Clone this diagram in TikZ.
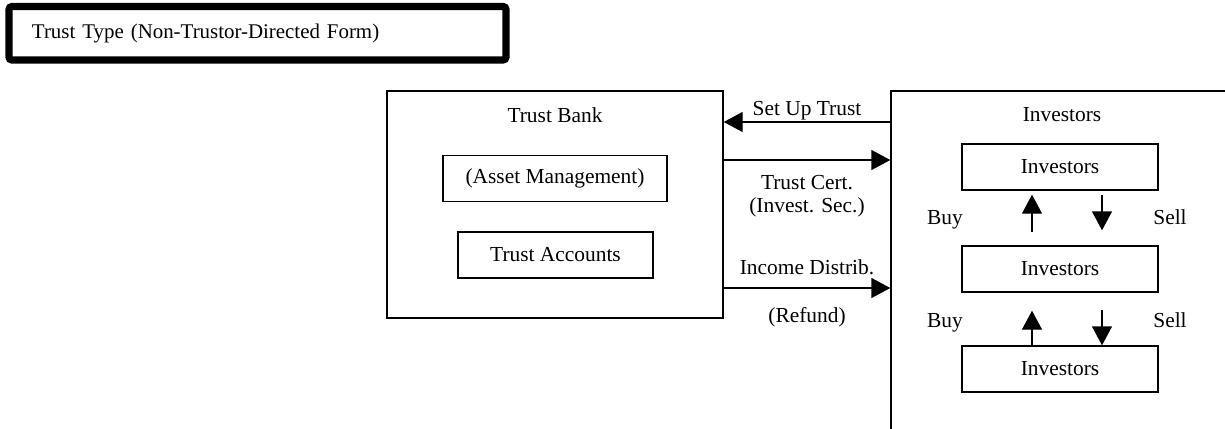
\documentclass[tikz,border=0pt]{standalone}
\usepackage{fontspec}
\setmainfont{Liberation Serif}
\usetikzlibrary{arrows.meta, positioning, calc}
\tikzset{
  panel/.style={
    rectangle, draw, line width=0.7pt, minimum width=#1, minimum height=23pt,
    align=center
  },
  flow/.style={
    -{Triangle[length=9.5pt, width=10pt]}, line width=0.7pt
  }
}

\begin{document}
\begin{tikzpicture}[
  x=0.5pt, y=-0.5pt, font=\fontsize{10.7}{11.5}\selectfont,
  heading/.style={rectangle, draw, line width=3.6pt, rounded corners=1.5pt,
                  minimum height=26.75pt, text width=225.5pt, inner xsep=11.5pt, align=left,
                  font=\fontsize{10.45}{11.5}\selectfont},
  tag/.style={inner sep=0pt, align=center},
]
  \useasboundingbox (0,0) rectangle (1225,428);
  \clip (0,0) rectangle (1225,428);

  % Title
  \node[heading] (title) at (257.5,33.25) {Trust Type (Non-Trustor-Directed Form)};

  % Trust bank
  \node[panel=168pt, minimum height=113.5pt] (bank) at (555,204.5) {};
  \node (bankname) at (555,115) {Trust Bank};
  \node[panel=112pt] (asset) at (555,178.5) {(Asset Management)};
  \node[panel=97.5pt] (accounts) at (555.5,255) {Trust Accounts};

  % Investors
  \node[panel=179.5pt, minimum height=179.5pt] (market) at (1070.5,270.5) {};
  \node (marketname) at (1062,115) {Investors};
  \node[panel=98pt] (inv1) at (1060,167) {Investors};
  \node[panel=98pt] (inv2) at (1060,269) {Investors};
  \node[panel=98pt] (inv3) at (1060,369) {Investors};

  % Flows between bank and investors
  \coordinate (r1) at (0,122);
  \coordinate (r2) at (0,160);
  \coordinate (r3) at (0,288);
  \draw[flow] (market.west |- r1) -- node[tag, above=0.6pt] (setup) {Set Up Trust} (bank.east |- r1);
  \draw[flow] (bank.east |- r2) -- node[tag, below=7.5pt] (cert) {Trust Cert.\\(Invest. Sec.)} (market.west |- r2);
  \draw[flow] (bank.east |- r3) -- node[tag, above=6.5pt] (income) {Income Distrib.}
    node[tag, below=9.5pt] (refund) {(Refund)} (market.west |- r3);

  % Trading among investors
  \draw[flow, shorten <=6.5pt, shorten >=2pt] ([xshift=-14pt]inv2.north) -- ([xshift=-14pt]inv1.south);
  \draw[flow, shorten <=2pt, shorten >=7.5pt] ([xshift=21pt]inv1.south) -- ([xshift=21pt]inv2.north);
  \draw[flow, shorten >=9pt] ([xshift=-14pt]inv3.north) -- ([xshift=-14pt]inv2.south);
  \draw[flow, shorten <=8.5pt] ([xshift=21pt]inv2.south) -- ([xshift=21pt]inv3.north);

  \node (buy1) at (945,220) {Buy};
  \node (sell1) at (1170,217) {Sell};
  \node (buy2) at (945,323) {Buy};
  \node (sell2) at (1170,320) {Sell};

\end{tikzpicture}
\end{document}
